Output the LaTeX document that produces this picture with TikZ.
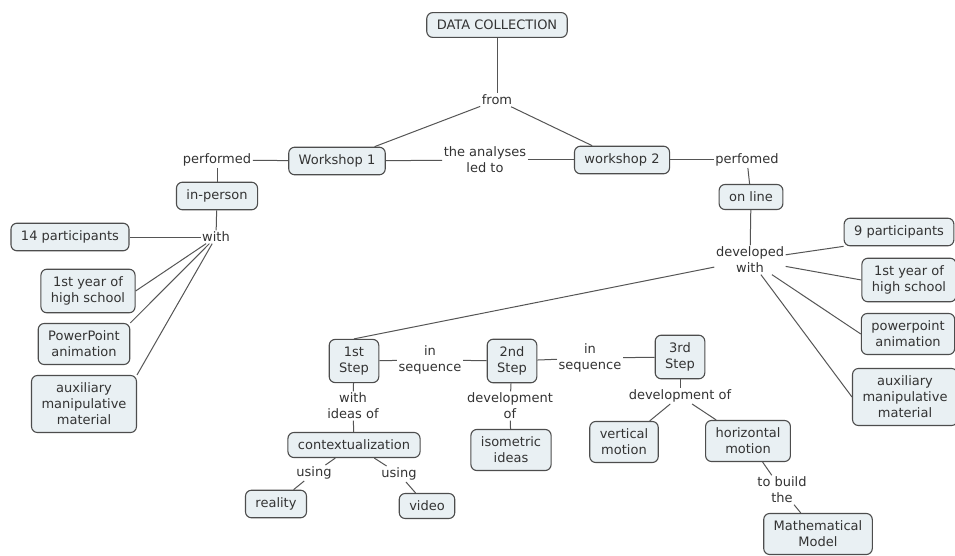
\documentclass[tikz,border=0pt]{standalone}
\usepackage{fontspec}
\setmainfont{DejaVu Sans}
\usepackage{tikz}

\definecolor{boxfill}{HTML}{E9F0F3}
\definecolor{boxline}{HTML}{4D4D4D}
\definecolor{linegray}{HTML}{555555}
\definecolor{textgray}{HTML}{333333}

\begin{document}
\begin{tikzpicture}[x=1pt, y=-1pt,
    font=\fontsize{13}{16}\selectfont, text=textgray,
    concept/.style={shape=rectangle, rounded corners=6pt, draw=boxline, fill=boxfill,
        line width=1.1pt, align=center, inner xsep=10pt, inner ysep=7.5pt},
    linkword/.style={align=center, inner sep=1.5pt},
    every edge/.style={draw=linegray, line width=1pt}]

    \fill[white] (0, 0) rectangle (955, 556);
    \useasboundingbox (0, 0) rectangle (955, 556);

    % top
    \node[concept] (dc) at (497, 25) {DATA COLLECTION};
    \node[linkword] (from) at (497, 100) {from};
    \node[concept] (w1) at (337, 161) {Workshop 1};
    \node[concept] (w2) at (622, 160) {workshop 2};
    \node[linkword] (analyses) at (485, 160) {the analyses\\led to};

    % workshop 1
    \node[linkword] (performed) at (217, 160) {performed};
    \node[concept] (inperson) at (217, 196) {in-person};
    \node[linkword] (with) at (216, 237) {with};
    \node[concept] (p14) at (70, 237) {14 participants};
    \node[concept] (yr1) at (88, 291) {1st year of\\high school};
    \node[concept] (ppt1) at (84, 344) {PowerPoint\\animation};
    \node[concept] (aux1) at (84, 404) {auxiliary\\manipulative\\material};

    % workshop 2
    \node[linkword] (perfomed) at (747, 160) {perfomed};
    \node[concept] (online) at (751, 197) {on line};
    \node[linkword] (devwith) at (750, 260) {developed\\with};
    \node[concept] (p9) at (899, 232) {9 participants};
    \node[concept] (yr2) at (909, 280) {1st year of\\high school};
    \node[concept] (ppt2) at (908, 334) {powerpoint\\animation};
    \node[concept] (aux2) at (905, 397) {auxiliary\\manipulative\\material};

    % steps
    \node[concept] (step1) at (354, 361) {1st\\Step};
    \node[linkword] (seq1) at (430, 360) {in\\sequence};
    \node[concept] (step2) at (512, 361) {2nd\\Step};
    \node[linkword] (seq2) at (590, 358) {in\\sequence};
    \node[concept] (step3) at (680, 357) {3rd\\Step};

    \node[linkword] (ideasof) at (353, 406) {with\\ideas of};
    \node[concept] (ctx) at (354, 445) {contextualization};
    \node[linkword] (using1) at (314, 473) {using};
    \node[concept] (reality) at (276, 504) {reality};
    \node[linkword] (using2) at (399, 474) {using};
    \node[concept] (video) at (427, 506) {video};

    \node[linkword] (devof2) at (510, 406) {development\\of};
    \node[concept] (iso) at (511, 450) {isometric\\ideas};

    \node[linkword] (devof3) at (680, 396) {development of};
    \node[concept] (vm) at (624, 442) {vertical\\motion};
    \node[concept] (hm) at (748, 441) {horizontal\\motion};
    \node[linkword] (tobuild) at (782, 490) {to build\\the};
    \node[concept] (mm) at (818, 534) {Mathematical\\Model};

    % connectors
    \path[-] (dc) edge (from);
    \path[-] (from) edge (w1);
    \path[-] (from) edge (w2);
    \path[-] (w1) edge (analyses);
    \path[-] (analyses) edge (w2);

    \path[-] (w1) edge (performed);
    \path[-] (performed) edge (inperson);
    \path[-] (inperson) edge (with);
    \path[-] (with) edge (p14);
    \path[-] (with) edge (yr1.east);
    \path[-] (with) edge (ppt1.north east);
    \path[-] (with) edge (aux1.north east);

    \path[-] (w2) edge (perfomed);
    \path[-] (perfomed) edge (online);
    \path[-] (online) edge (devwith);
    \path[-] (devwith) edge (p9.south west);
    \path[-] (devwith) edge (yr2.west);
    \path[-] (devwith) edge (ppt2.west);
    \path[-] (devwith) edge (aux2.west);
    \path[-] (devwith) edge (step1.north);

    \path[-] (step1) edge (seq1);
    \path[-] (seq1) edge (step2);
    \path[-] (step2) edge (seq2);
    \path[-] (seq2) edge (step3);

    \path[-] (step1) edge (ideasof);
    \path[-] (ideasof) edge (ctx);
    \path[-] (ctx) edge (using1);
    \path[-] (using1) edge (reality);
    \path[-] (ctx) edge (using2);
    \path[-] (using2) edge (video);

    \path[-] (step2) edge (devof2);
    \path[-] (devof2) edge (iso);

    \path[-] (step3) edge (devof3);
    \path[-] (devof3) edge (vm);
    \path[-] (devof3) edge (hm);
    \path[-] (hm) edge (tobuild);
    \path[-] (tobuild) edge (mm);

\end{tikzpicture}
\end{document}
